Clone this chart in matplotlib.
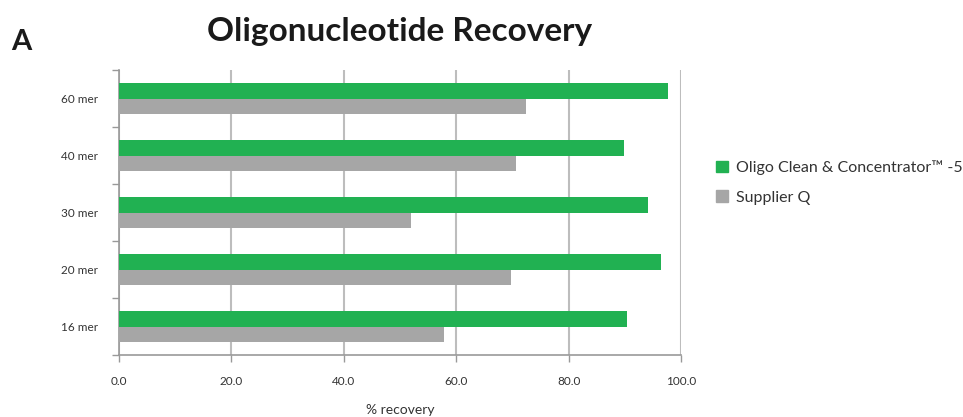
import matplotlib
matplotlib.use("Agg")
import matplotlib.pyplot as plt
import numpy as np
from matplotlib.patches import Patch

plt.rcParams['font.family'] = ['Lato', 'DejaVu Sans']

categories = ["60 mer", "40 mer", "30 mer", "20 mer", "16 mer"]
oligo_cc5 = [97.7, 89.8, 94.2, 96.5, 90.4]
supplier_q = [72.5, 70.6, 51.9, 69.8, 57.9]
series_names = ["Oligo Clean & Concentrator\u2122 -5", "Supplier Q"]
xticks = [0, 20, 40, 60, 80, 100]

green = "#21B152"
gray = "#A6A6A6"
gridc = "#BDBDBD"

fig = plt.figure(figsize=(9.63, 4.17), dpi=100)
ax = fig.add_axes([119 / 963, 1 - 355 / 417, (681 - 119) / 963, (355 - 70) / 417])

y = np.arange(len(categories))
h = 0.28
ax.barh(y - h / 2, oligo_cc5, height=h, color=green, zorder=3)
ax.barh(y + h / 2, supplier_q, height=h, color=gray, zorder=3)

ax.set_ylim(len(categories) - 0.5, -0.5)
ax.set_xlim(0, 100)
ax.set_yticks(y)
ax.set_yticklabels(categories, fontsize=8.5, color="#333333")
ax.tick_params(axis="y", length=0, pad=15)
ax.set_yticks(np.arange(-0.5, len(categories) + 0.5, 1), minor=True)
ax.tick_params(axis="y", which="minor", length=5, color="#999999", width=1)

ax.set_xticks(xticks)
ax.set_xticklabels([f"{v:.1f}" for v in xticks], fontsize=8.5, color="#333333")
ax.tick_params(axis="x", length=5, color="#999999", width=1, pad=10)
ax.grid(axis="x", color=gridc, linewidth=1.5, zorder=0)

for s in ["top", "right"]:
    ax.spines[s].set_visible(False)
ax.spines["left"].set_color("#999999")
ax.spines["bottom"].set_color("#999999")
ax.spines["left"].set_linewidth(1.2)
ax.spines["bottom"].set_linewidth(1.2)

ax.set_xlabel("% recovery", fontsize=10, color="#333333", labelpad=12)

fig.text(400 / 963, 1 - 31 / 417, "Oligonucleotide Recovery", ha="center", va="center",
         fontsize=24, fontweight="bold", color="#1a1a1a")
fig.text(11 / 963, 1 - 42 / 417, "A", ha="left", va="center",
         fontsize=21, fontweight="bold", color="#1a1a1a")

handles = [Patch(color=green), Patch(color=gray)]
fig.legend(handles, series_names, loc="upper left", bbox_to_anchor=(702 / 963, 1 - 146 / 417),
           frameon=False, fontsize=11.5, handlelength=0.75, handleheight=0.75,
           handletextpad=0.5, labelspacing=0.95, labelcolor="#333333")

fig.savefig("out.png", dpi=100)
